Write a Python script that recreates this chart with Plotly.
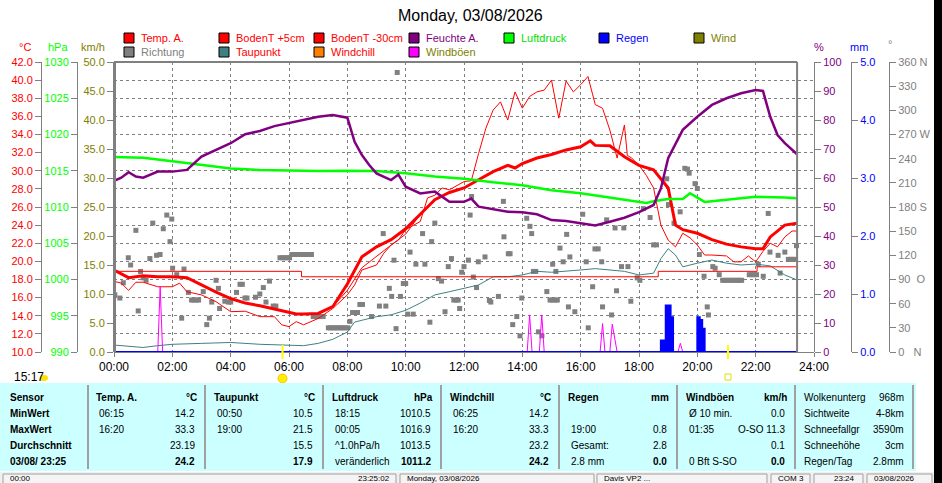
import plotly.graph_objects as go

W, H = 942, 483
X0, X1 = 114, 814      # pixel columns of 00:00 and 24:00
Y0, Y1 = 62, 352       # pixel rows of the plot top / bottom
GRAY = "#808080"
FONT = "Liberation Sans"


def px(x):
    return x / W


def py(y):
    return (Y1 - y) / (Y1 - Y0)


# ---------------------------------------------------------------- data
hour_ticks = list(range(0, 25, 2))
hour_labels = ["%02d:00" % h for h in hour_ticks]
now_hour = 23.42
sunrise_hour = 5.78
sunset_hour = 21.05

temp_hours = [0, 0.5, 1, 1.5, 2, 2.5, 3, 3.5, 4, 4.5, 5, 5.5, 6, 6.25, 6.5, 7, 7.5,
              8, 8.5, 9, 9.5, 10, 10.5, 11, 11.5, 12, 12.5, 13, 13.5, 13.75, 14, 14.5,
              15, 15.5, 16, 16.33, 16.5, 17, 17.5, 18, 18.5, 19, 19.25, 19.5, 20,
              20.5, 21, 21.5, 22, 22.25, 22.5, 23, 23.42]
temp_a = [19.05, 18.2, 18.4, 18.3, 18.3, 18.2, 17.4, 16.6, 15.9, 15.4, 15.1, 14.75,
          14.4, 14.2, 14.2, 14.25, 15.0, 17.5, 20.5, 21.6, 22.4, 23.6, 25.2, 26.8,
          27.6, 28.1, 29.0, 29.9, 30.6, 30.3, 30.8, 31.4, 31.8, 32.3, 32.65, 33.3,
          32.8, 32.75, 31.55, 30.6, 30.1, 28.1, 24.0, 23.5, 23.1, 22.4, 21.9, 21.6,
          21.4, 21.4, 22.7, 24.0, 24.2]
windchill = [19.05, 18.2, 18.4, 18.3, 18.3, 18.2, 17.4, 16.6, 15.9, 15.4, 15.1, 14.75,
             14.4, 14.2, 14.2, 14.25, 15.0, 16.8, 19.3, 20.6, 21.8, 23.0, 25.2, 26.8,
             27.6, 28.1, 29.0, 29.9, 30.6, 30.3, 30.8, 31.4, 31.8, 32.3, 32.65, 33.3,
             32.8, 32.75, 31.55, 30.6, 30.1, 28.1, 24.0, 23.5, 23.1, 22.4, 21.9, 21.6,
             21.4, 21.4, 22.7, 24.0, 24.2]

soil5_hours = [0, 0.25, 0.5, 0.75, 1, 1.5, 2, 2.25, 2.5, 3, 3.5, 4, 4.5, 5, 5.5, 5.75,
               6, 6.25, 6.5, 7, 7.5, 8, 8.25, 8.5, 9, 9.25, 9.5, 9.75, 10, 10.5, 10.75,
               11, 11.25, 11.5, 12, 12.25, 12.5, 12.75, 13, 13.25, 13.5, 13.75, 14,
               14.25, 14.5, 14.75, 15, 15.25, 15.5, 15.75, 16, 16.25, 16.5, 16.75, 17,
               17.25, 17.5, 17.6, 17.75, 18, 18.25, 18.5, 18.75, 19, 19.25, 19.5,
               19.75, 20, 20.25, 20.5, 21, 21.25, 21.5, 21.75, 22, 22.25, 22.5, 22.75,
               23, 23.25, 23.42]
soil_5cm = [17.8, 17.6, 16.8, 17.7, 17.7, 17.2, 17.2, 17.6, 16.65, 16.3, 15.55, 14.45,
            14.5, 13.9, 13.9, 13.0, 12.8, 13.35, 13.0, 13.7, 14.8, 16.3, 17.4, 19.05,
            19.6, 20.9, 21.8, 22.35, 23.5, 24.4, 27.0, 27.3, 28.1, 27.9, 28.8, 28.9,
            31.9, 34.7, 36.7, 37.6, 35.6, 38.7, 36.9, 38.2, 38.7, 38.9, 40.0, 35.8,
            39.9, 38.7, 39.5, 40.4, 37.3, 36.9, 34.5, 31.4, 35.05, 31.7, 31.4, 30.6,
            29.5, 28.1, 24.0, 22.35, 21.6, 23.1, 22.6, 21.8, 20.7, 20.7, 20.6, 19.95,
            19.95, 20.6, 19.95, 21.1, 22.0, 21.6, 22.7, 23.35, 23.35]

soil30_hours = [0, 6.43, 18.66, 22.05, 23.42]
soil_30cm = [18.9, 18.3, 18.9, 19.4, 19.4]

dew_hours = [0, 0.5, 1, 1.5, 2, 3, 4, 5, 6, 6.5, 7, 7.5, 8, 8.25, 8.5, 9, 9.5, 10,
             10.5, 11, 11.5, 12, 12.5, 13, 13.5, 14, 14.5, 15, 15.5, 16, 16.5, 17,
             17.5, 18, 18.5, 18.75, 19, 19.25, 19.5, 20, 20.5, 21, 21.5, 22, 22.5,
             23, 23.42]
dewpoint = [10.77, 10.6, 10.5, 10.7, 10.85, 10.95, 11.05, 10.85, 10.77, 10.7, 10.95,
            11.4, 12.2, 13.3, 13.5, 13.9, 14.1, 14.6, 15.4, 16.3, 16.65, 17.0, 17.4,
            18.3, 18.3, 18.5, 18.9, 18.8, 18.9, 19.05, 19.2, 19.05, 18.9, 18.5, 18.7,
            20.3, 21.4, 20.7, 19.4, 19.8, 20.15, 19.8, 19.6, 19.7, 19.5, 18.5, 17.95]

hum_hours = [0, 0.25, 0.5, 0.75, 1, 1.5, 2, 2.5, 3, 3.5, 4, 4.5, 5, 5.5, 6, 6.5, 7,
             7.5, 8, 8.25, 8.5, 8.75, 9, 9.5, 9.75, 10, 10.5, 11, 11.5, 12, 12.25,
             12.5, 13, 13.5, 14, 14.5, 15, 15.5, 16, 16.5, 17, 17.5, 18, 18.5, 18.75,
             19, 19.5, 20, 20.5, 21, 21.5, 22, 22.25, 22.5, 22.75, 23, 23.42]
humidity = [59.0, 60.1, 62.0, 60.5, 60.1, 62.2, 62.2, 62.8, 67.4, 69.7, 72.0, 75.1,
            76.2, 77.9, 78.9, 80.0, 81.1, 81.7, 80.8, 72.5, 67.9, 64.5, 61.6, 59.3,
            61.2, 57.0, 54.7, 55.3, 51.8, 51.8, 52.9, 50.1, 49.3, 48.4, 48.2, 47.5,
            45.5, 45.2, 44.4, 43.6, 44.9, 46.3, 48.2, 50.7, 56.4, 66.8, 76.6, 81.1,
            85.2, 87.5, 89.2, 90.3, 90.0, 81.1, 74.8, 72.0, 68.2]

press_hours = [0, 1, 2, 3, 4, 5, 6, 7, 8, 9, 10, 11, 12, 12.5, 13, 14, 15, 16, 17, 18,
               18.25, 18.5, 19, 19.5, 19.75, 20, 20.25, 20.5, 21, 22, 23, 23.42]
pressure = [1016.9, 1016.8, 1016.3, 1015.8, 1015.3, 1015.1, 1015.0, 1014.95, 1015.0,
            1014.95, 1014.65, 1014.2, 1013.9, 1013.7, 1013.4, 1013.0, 1012.3, 1011.9,
            1011.3, 1010.7, 1010.55, 1010.8, 1011.1, 1011.1, 1011.9, 1011.3, 1010.7,
            1010.8, 1011.0, 1011.4, 1011.3, 1011.2]

gust_hours = [0, 1.5, 1.583, 1.667, 14.167, 14.25, 14.333, 14.583, 14.667, 14.75,
              16.667, 16.75, 16.833, 17.0, 17.083, 17.167, 17.25, 19.333, 19.417,
              19.5, 23.42]
gusts = [0, 0, 11.3, 0, 0, 6.4, 0, 0, 6.4, 0, 0, 4.9, 0, 0, 4.8, 2.5, 0, 0, 1.5, 0, 0]

rain_hours = [0, 18.75, 18.833, 18.917, 19.0, 19.083, 19.167, 20.0, 20.083, 20.167,
              20.25, 23.42]
rain = [0, 0.2, 0.2, 0.8, 0.8, 0.6, 0, 0.6, 0.55, 0.4, 0, 0]

dir_hours = [0.03, 0.2, 0.32, 0.49, 0.57, 0.75, 0.83, 0.91, 1.0, 1.1, 1.23, 1.33,
             1.46, 1.58, 1.69, 1.81, 1.92, 1.98, 2.01, 2.15, 2.32, 2.4, 2.55, 2.66,
             2.74, 2.82, 2.9, 3.06, 3.18, 3.27, 3.35, 3.5, 3.58, 3.62, 3.8, 3.92, 4.0,
             4.2, 4.32, 4.4, 4.49, 4.56, 4.85, 5.0, 5.12, 5.21, 5.33, 5.46, 5.55,
             5.69, 5.77, 5.85, 5.94, 6.02, 6.1, 6.18, 6.27, 6.35, 6.43, 6.52, 6.6,
             6.68, 6.77, 6.83, 6.92, 7.0, 7.08, 7.17, 7.35, 7.43, 7.52, 7.6, 7.68,
             7.77, 7.85, 7.93, 8.02, 8.09, 8.18, 8.27, 8.35, 8.43, 8.52, 8.83, 9.1,
             9.23, 9.32, 9.44, 9.52, 9.6, 9.67, 9.71, 9.82, 9.92, 10.0, 10.07, 10.15,
             10.26, 10.35, 10.58, 10.66, 10.83, 10.89, 11.0, 11.12, 11.23, 11.35,
             11.46, 11.57, 11.65, 11.73, 11.8, 11.85, 11.92, 12.0, 12.15, 12.21,
             12.26, 12.32, 12.43, 12.49, 12.72, 12.87, 12.92, 13.18, 13.35, 13.37,
             13.52, 13.58, 13.67, 13.81, 13.92, 13.98, 14.15, 14.26, 14.32, 14.38,
             14.46, 14.55, 14.67, 14.84, 14.95, 15.03, 15.12, 15.2, 15.04, 15.15,
             15.29, 15.4, 15.52, 15.58, 15.63, 15.8, 16.07, 16.19, 16.26, 16.41,
             16.49, 16.6, 16.72, 16.75, 16.89, 17.06, 17.18, 17.23, 17.4, 17.48,
             17.62, 17.72, 17.94, 18.03, 18.15, 18.38, 18.5, 18.6, 18.95, 19.01,
             19.2, 19.41, 19.57, 19.66, 19.72, 19.92, 20.0, 20.07, 20.23, 20.34,
             20.38, 20.53, 20.61, 20.75, 20.87, 20.95, 21.04, 21.12, 21.2, 21.29,
             21.37, 21.45, 21.52, 21.78, 21.87, 21.95, 22.03, 22.09, 22.26, 22.43,
             22.49, 22.77, 22.84, 23.0, 23.12, 23.2, 23.28, 23.35, 23.4]
dir_deg = [71, 67, 86, 117, 108, 151, 51, 100, 92, 89, 116, 160, 120, 121, 153, 170,
           137, 165, 104, 96, 42, 103, 74, 64.5, 64.5, 64.5, 64.5, 75, 34, 42, 62, 89,
           79, 54, 63, 62, 62, 74, 84, 84, 67, 67, 68, 72, 80, 62, 88, 57, 57, 117,
           117, 117, 117, 117, 121, 121, 121, 121, 121, 121, 121, 121, 121, 44, 44, 44,
           44, 44, 30, 30, 30, 30, 30, 30, 30, 30, 30, 38, 49, 49, 49, 59, 59, 44, 57,
           147, 57, 79, 69, 114, 29, 347, 69, 85, 85, 47, 124, 47, 109, 147, 109, 37,
           137, 160, 91, 88, 50, 106, 116, 64.5, 64.5, 64.5, 54, 99, 106, 114, 170,
           193, 93, 80, 112, 118, 64, 62, 69, 187, 143, 122, 122, 34, 44, 20, 67, 166,
           156, 147, 100, 100, 25, 20, 75, 64.5, 64.5, 64.5, 64.5, 109, 100, 129, 112,
           146, 56, 118, 50, 171, 112, 30, 81, 128, 128, 112, 56, 164, 46, 154, 76,
           106, 154, 106, 63, 92, 89, 178, 167, 133, 133, 215, 183, 160, 174, 228,
           227, 222, 209, 203, 121, 94, 56, 46, 106, 104, 96, 89, 89, 89, 89, 89, 89,
           89, 89, 89, 96, 96, 96, 96, 109, 94, 172, 124, 120, 98, 124, 115, 115, 115,
           115, 132]

deg_ticks = list(range(0, 361, 30))
deg_labels = ["0\u00a0\u00a0\u00a0N", "30", "60", "90\u00a0\u00a0O", "120", "150",
              "180\u00a0S", "210", "240", "270\u00a0W", "300", "330", "360\u00a0N"]

legend_row1 = [("Temp. A.", "#FF0000", "#FF0000"), ("BodenT +5cm", "#FF0000", "#FF0000"),
               ("BodenT -30cm", "#FF0000", "#FF0000"), ("Feuchte A.", "#800080", "#800080"),
               ("Luftdruck", "#00FF00", "#00E000"), ("Regen", "#0000FF", "#0000FF"),
               ("Wind", "#808000", "#808000")]
legend_row2 = [("Richtung", "#808080", "#808080"), ("Taupunkt", "#408080", "#FF0000"),
               ("Windchill", "#FF8000", "#FF0000"), ("Windböen", "#FF00FF", "#808000")]

table_labels = ["Sensor", "MinWert", "MaxWert", "Durchschnitt", "03/08/ 23:25"]
table_cols = [
    ("Temp. A.", "°C", ["06:15", "16:20", "", ""], ["14.2", "33.3", "23.19", "24.2"]),
    ("Taupunkt", "°C", ["00:50", "19:00", "", ""], ["10.5", "21.5", "15.5", "17.9"]),
    ("Luftdruck", "hPa", ["18:15", "00:05", "^1.0hPa/h", "veränderlich"],
     ["1010.5", "1016.9", "1013.5", "1011.2"]),
    ("Windchill", "°C", ["06:25", "16:20", "", ""], ["14.2", "33.3", "23.2", "24.2"]),
    ("Regen", "mm", ["", "19:00", "Gesamt:", "2.8 mm"], ["", "0.8", "2.8", "0.0"]),
    ("Windböen", "km/h", ["Ø 10 min.", "01:35", "", "0 Bft S-SO"],
     ["0.0", "O-SO 11.3", "0.1", "0.0"]),
]
extra_labels = ["Wolkenunterg", "Sichtweite", "Schneefallgr", "Schneehöhe", "Regen/Tag"]
extra_values = ["968m", "4-8km", "3590m", "3cm", "2.8mm"]

status_boxes = [(3, 396), (400, 594), (597, 767), (771, 810), (814, 863), (867, 932)]
status_texts = [("00:00", 8, "left"), ("23:25:02", 392, "right"),
                ("Monday, 03/08/2026", 405, "left"), ("Davis VP2 ...", 602, "left"),
                ("COM 3", 776, "left"), ("23:24", 832, "left"), ("03/08/2026", 872, "left")]

# ---------------------------------------------------------------- traces
fig = go.Figure()

fig.add_trace(go.Scatter(x=dir_hours, y=dir_deg, mode="markers", yaxis="y",
                         marker=dict(symbol="square", size=5, color=GRAY, line_width=0)))
fig.add_trace(go.Scatter(x=dew_hours, y=dewpoint, mode="lines", yaxis="y2",
                         line=dict(color="#408080", width=1)))
fig.add_trace(go.Scatter(x=soil30_hours, y=soil_30cm, mode="lines", yaxis="y2",
                         line=dict(color="#FF0000", width=1, shape="hv")))
fig.add_trace(go.Scatter(x=soil5_hours, y=soil_5cm, mode="lines", yaxis="y2",
                         line=dict(color="#FF0000", width=1)))
fig.add_trace(go.Scatter(x=temp_hours, y=windchill, mode="lines", yaxis="y2",
                         line=dict(color="#FF0000", width=1)))
fig.add_trace(go.Scatter(x=temp_hours, y=temp_a, mode="lines", yaxis="y2",
                         line=dict(color="#FF0000", width=3)))
fig.add_trace(go.Scatter(x=press_hours, y=pressure, mode="lines", yaxis="y3",
                         line=dict(color="#00FF00", width=2.5)))
fig.add_trace(go.Scatter(x=gust_hours, y=gusts, mode="lines", yaxis="y4",
                         line=dict(color="#FF00FF", width=1)))
fig.add_trace(go.Scatter(x=hum_hours, y=humidity, mode="lines", yaxis="y5",
                         line=dict(color="#800080", width=2.5)))
fig.add_trace(go.Scatter(x=rain_hours, y=rain, mode="lines", yaxis="y6", fill="tozeroy",
                         fillcolor="#0000FF", line=dict(color="#0000FF", width=2, shape="hv")))
# direction scale labels need a trace on their axis; markers invisible
fig.add_trace(go.Scatter(x=dir_hours, y=dir_deg, mode="markers", yaxis="y7",
                         marker=dict(opacity=0)))
fig.update_traces(showlegend=False, hoverinfo="skip")


def side_axis(color, rng, vals, pos, side, fmt="", text=None):
    ax = dict(overlaying="y", anchor="free", position=pos, side=side, range=rng,
              tickvals=vals, tickformat=fmt, ticks="outside", ticklen=6, tickcolor=GRAY,
              showline=True, linecolor=GRAY, linewidth=1, showgrid=False, zeroline=False,
              tickfont=dict(color=color, size=11), fixedrange=True, automargin=False)
    if text:
        ax["ticktext"] = text
    return ax


fig.update_layout(
    width=W, height=H,
    margin=dict(l=0, r=0, t=Y0, b=H - Y1, pad=0, autoexpand=False),
    paper_bgcolor="white", plot_bgcolor="white",
    font=dict(family=FONT, size=11, color="black"),
    showlegend=False,
    xaxis=dict(domain=[px(X0), px(X1)], range=[0, 24], tickvals=hour_ticks,
               ticktext=hour_labels, showgrid=True, gridcolor=GRAY, griddash="3px,3px",
               gridwidth=1, ticks="outside", ticklen=4, tickcolor=GRAY, showline=True,
               linecolor=GRAY, linewidth=1, zeroline=False, fixedrange=True,
               automargin=False, tickfont=dict(size=12, color="black")),
    # base axis: wind direction scale, carries the horizontal grid (every 2 °C)
    yaxis=dict(domain=[0, 1], range=[0, 360], tickvals=[i * 22.5 for i in range(17)],
               showgrid=True, gridcolor=GRAY, griddash="3px,3px", gridwidth=1,
               showticklabels=False, ticks="", showline=False, zeroline=False,
               fixedrange=True, automargin=False),
    yaxis2=side_axis("#FF0000", [10, 42], list(range(10, 43, 2)), px(41), "left", ".1f"),
    yaxis3=side_axis("#00FF00", [990, 1030], list(range(990, 1031, 5)), px(77), "left"),
    yaxis4=side_axis("#808000", [0, 50], list(range(0, 51, 5)), px(X0), "left", ".1f"),
    yaxis5=side_axis("#800080", [0, 100], list(range(0, 101, 10)), px(X1), "right"),
    yaxis6=side_axis("#0000FF", [0, 5], [0, 1, 2, 3, 4, 5], px(851), "right", ".1f"),
    yaxis7=side_axis(GRAY, [0, 360], deg_ticks, px(889), "right", "", deg_labels),
)
fig.layout.yaxis4.linewidth = 3

shapes = []
annots = []


def text(s, x, y, color="black", size=11, anchor="left", bold=False):
    annots.append(dict(text="<b>%s</b>" % s if bold else s, x=px(x), y=py(y),
                       xref="paper", yref="paper", xanchor=anchor, yanchor="middle",
                       showarrow=False, font=dict(color=color, size=size, family=FONT)))


def rect(x0, y0, x1, y1, fill, line=None, width=1):
    shapes.append(dict(type="rect", xref="paper", yref="paper", x0=px(x0), x1=px(x1),
                       y0=py(y1), y1=py(y0), fillcolor=fill,
                       line=dict(color=line or fill, width=width if line else 0),
                       layer="above"))


def line(x0, y0, x1, y1, color, width=1):
    shapes.append(dict(type="line", xref="paper", yref="paper", x0=px(x0), x1=px(x1),
                       y0=py(y0), y1=py(y1), line=dict(color=color, width=width),
                       layer="above"))


# frame: top border and "now" line
shapes.append(dict(type="line", xref="x", yref="paper", x0=0, x1=now_hour, y0=1, y1=1,
                   line=dict(color=GRAY, width=2)))
shapes.append(dict(type="line", xref="x", yref="paper", x0=now_hour, x1=now_hour, y0=0,
                   y1=1, line=dict(color=GRAY, width=2)))
# sunrise / sunset marks
for h in (sunrise_hour, sunset_hour):
    shapes.append(dict(type="line", xref="x", yref="paper", x0=h, x1=h, y0=py(345),
                       y1=py(359), line=dict(color="#FFFF00", width=2)))

# title
text("Monday, 03/08/2026", 470, 15, size=16, anchor="center")

# axis units
for s, x, y, c in [("°C", 25, 47, "#FF0000"), ("hPa", 58, 47, "#00FF00"),
                   ("km/h", 93, 47, "#808000"), ("%", 819, 47, "#800080"),
                   ("mm", 859, 47, "#0000FF"), ("°", 890, 44, GRAY)]:
    text(s, x, y, color=c, anchor="center")

# legend
for i, (name, box, col) in enumerate(legend_row1):
    bx = 124 + 95 * i
    rect(bx, 33, bx + 10, 43, box, "black")
    text(name, bx + 15, 38, color=col)
for i, (name, box, col) in enumerate(legend_row2):
    bx = 124 + 95 * i
    rect(bx, 47, bx + 10, 57, box, "black")
    text(name, bx + 15, 52, color=col)

# small icons under the axis
text("15:17", 12, 377, size=12)
shapes.append(dict(type="circle", xref="paper", yref="paper", x0=px(40), x1=px(48),
                   y0=py(381), y1=py(375), fillcolor="#FFE000", line=dict(width=0)))
shapes.append(dict(type="circle", xref="paper", yref="paper", x0=px(278), x1=px(287),
                   y0=py(383), y1=py(374), fillcolor="#FFF000",
                   line=dict(color="#FFC000", width=1)))
rect(725, 374, 731, 380, "white", "#E0E000")

# table
rect(0, 383, 916, 471, "#CCFFFF")
for x in (88, 205, 323, 441, 559, 677, 795, 913):
    line(x, 385, x, 469, "#A0A0A0", 2)
rows_y = [397, 413, 429, 445, 461]
for s, y in zip(table_labels, rows_y):
    text(s, 8, y, size=10, bold=True)
for i, (head, unit, lefts, rights) in enumerate(table_cols):
    x_left = 94 + 118 * i
    x_right = 199 + 118 * i
    text(head, x_left, rows_y[0], size=10, bold=True)
    text(unit, x_right, rows_y[0], size=10, anchor="right", bold=True)
    for r in range(4):
        if lefts[r]:
            text(lefts[r], x_left + 3, rows_y[r + 1], size=10)
        if rights[r]:
            text(rights[r], x_right - 2, rows_y[r + 1], size=10, anchor="right",
                 bold=(r == 3))
for s, v, y in zip(extra_labels, extra_values, rows_y):
    text(s, 802, y, size=10)
    text(v, 906, y, size=10, anchor="right")

# status bar at the window's lower edge
rect(0, 472, 934, 483, "#F0F0F0")
for x0, x1 in status_boxes:
    rect(x0, 474, x1, 490, "#F4F4F4", "#A0A0A0")
for s, x, a in status_texts:
    text(s, x, 478.5, size=8, anchor=a)

# dark strip of the window behind
rect(934, 0, 942, 483, "#000000")

fig.update_layout(shapes=shapes, annotations=annots)

fig.write_html("out.html", config={"displayModeBar": False},
               post_script="document.body.style.margin='0';"
                           "document.body.style.overflow='hidden';")
